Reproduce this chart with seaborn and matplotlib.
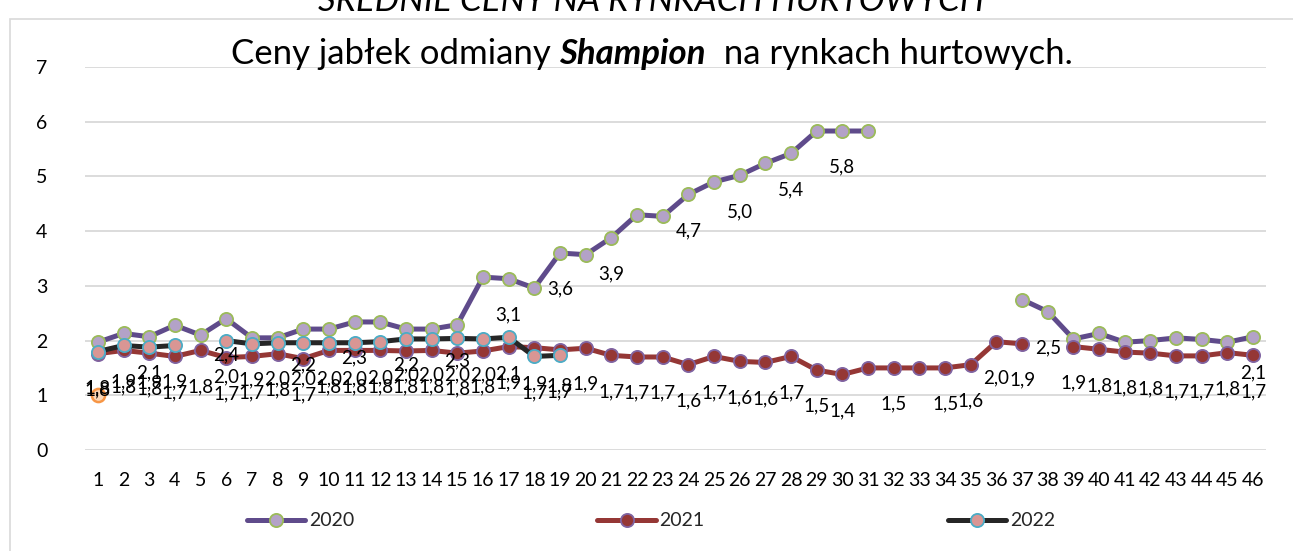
import numpy as np
import pandas as pd
import matplotlib.pyplot as plt
import seaborn as sns
from matplotlib.lines import Line2D
from matplotlib.patches import Rectangle

nan = np.nan
weeks = list(range(1, 47))

ceny_2020 = [1.97, 2.13, 2.07, 2.28, 2.10, 2.40, 2.05, 2.05, 2.21, 2.21,
             2.34, 2.34, 2.21, 2.21, 2.29, 3.16, 3.13, 2.96, 3.60, 3.57,
             3.88, 4.30, 4.27, 4.67, 4.90, 5.02, 5.24, 5.42, 5.83, 5.83,
             5.83, nan, nan, nan, nan, nan, 2.75, 2.53, 2.03, 2.13,
             1.97, 2.00, 2.05, 2.02, 1.97, 2.07]
ceny_2021 = [1.76, 1.82, 1.77, 1.71, 1.82, 1.69, 1.71, 1.76, 1.67, 1.82,
             1.82, 1.82, 1.81, 1.82, 1.77, 1.81, 1.89, 1.87, 1.83, 1.86,
             1.73, 1.70, 1.70, 1.56, 1.71, 1.62, 1.60, 1.71, 1.46, 1.38,
             1.50, 1.50, 1.50, 1.50, 1.56, 1.98, 1.94, nan, 1.89, 1.84,
             1.79, 1.77, 1.72, 1.72, 1.78, 1.73]
ceny_2022 = [1.80, 1.91, 1.88, 1.91, nan, 2.00, 1.94, 1.96, 1.96, 1.96,
             1.96, 1.98, 2.03, 2.03, 2.04, 2.03, 2.06, 1.71, 1.73] + [nan] * 27

# stray point at week 1
extra_week = [1]
extra_val = [1.0]

# which points carry a data label
labels_2020 = [3, 6, 9, 11, 13, 15, 17, 19, 21, 24, 26, 28, 30, 38, 46]
skip_2021 = [31, 33]

df = pd.DataFrame({"tydzien": weeks, "2020": ceny_2020,
                   "2021": ceny_2021, "2022": ceny_2022})

styles = {
    "2020": dict(color="#5F4B8B", mfc="#B3A2C7", mec="#9BBB59"),
    "2021": dict(color="#953735", mfc="#953735", mec="#8064A2"),
    "2022": dict(color="#262626", mfc="#D99694", mec="#4BACC6"),
}

sns.set_theme(style="white")
plt.rcParams["font.family"] = ["Lato", "DejaVu Sans"]

fig = plt.figure(figsize=(12.93, 5.51), dpi=100)
ax = fig.add_axes([85 / 1293, 101 / 551, (1266 - 85) / 1293, 383 / 551])


def segments(x, y):
    s = pd.Series(np.asarray(y, dtype=float), index=np.asarray(x))
    ok = s.notna()
    grp = (~ok).cumsum()
    for _, seg in s[ok].groupby(grp[ok]):
        yield list(seg.index), list(seg.values)


for z, year in enumerate(["2020", "2021", "2022"]):
    st = styles[year]
    for xs, ys in segments(df["tydzien"], df[year]):
        sns.lineplot(x=xs, y=ys, ax=ax, color=st["color"], linewidth=3.6,
                     marker="o", markersize=9.5, markerfacecolor=st["mfc"],
                     markeredgecolor=st["mec"], markeredgewidth=1.3,
                     zorder=3 + z, estimator=None, sort=False)

sns.scatterplot(x=extra_week, y=extra_val, ax=ax, s=90, color="#FAD7B8",
                edgecolor="#F79646", linewidth=1.8, zorder=7)


def label(wk, v):
    ax.annotate(f"{v:.1f}".replace(".", ","), (wk, v), xytext=(0, -26),
                textcoords="offset points", ha="center", va="center",
                fontsize=13.5, color="black", zorder=10)


for wk, v in zip(weeks, ceny_2020):
    if wk in labels_2020 and not np.isnan(v):
        label(wk, v)
for wk, v in zip(weeks, ceny_2021):
    if wk not in skip_2021 and not np.isnan(v):
        label(wk, v)
for wk, v in zip(weeks, ceny_2022):
    if not np.isnan(v):
        label(wk, v)

ax.set_xlim(0.5, 46.5)
ax.set_ylim(0, 7)
ax.set_xticks(weeks)
ax.set_yticks(range(8))
ax.set_xlabel("")
ax.set_ylabel("")
ax.set_axisbelow(True)
ax.grid(axis="y", color="#d9d9d9", linewidth=1.3)
ax.grid(axis="x", visible=False)
for sp in ax.spines.values():
    sp.set_visible(False)
ax.tick_params(axis="both", length=0, labelsize=14, colors="black")
ax.tick_params(axis="y", pad=27)
ax.tick_params(axis="x", pad=16)

# chart title with bold italic variety name
r = fig.canvas.get_renderer()
parts = [("Ceny jabłek odmiany ", "normal", "normal"),
         ("Shampion", "bold", "italic"),
         ("  na rynkach hurtowych.", "normal", "normal")]
ty = 1 - 64 / 551
texts = [fig.text(0, ty, s, fontsize=25, fontweight=w, fontstyle=st,
                  ha="left", va="baseline", color="black")
         for s, w, st in parts]
widths = [t.get_window_extent(r).width for t in texts]
x0 = 651.5 - sum(widths) / 2
for t, w in zip(texts, widths):
    t.set_x(x0 / 1293)
    x0 += w

# partially visible heading above the chart
fig.text(651 / 1293, 1 - 11 / 551, "ŚREDNIE CENY NA RYNKACH HURTOWYCH",
         ha="center", va="baseline", fontsize=25, fontstyle="italic",
         color="black")

# chart area border
fig.patches.append(Rectangle((10 / 1293, -0.05), 1.1, (551 - 19) / 551 + 0.05,
                             transform=fig.transFigure, fill=False,
                             edgecolor="#d9d9d9", linewidth=1.2))

handles = [Line2D([], [], color=styles[y]["color"], linewidth=3.6, marker="o",
                  markersize=9.5, markerfacecolor=styles[y]["mfc"],
                  markeredgecolor=styles[y]["mec"], markeredgewidth=1.3)
           for y in ["2020", "2021", "2022"]]
fig.legend(handles, ["2020", "2021", "2022"], loc="center",
           bbox_to_anchor=(651 / 1293, 1 - 521 / 551), ncol=3, frameon=False,
           fontsize=14, handlelength=3.0, handletextpad=0.2,
           columnspacing=12.5)

fig.savefig("out.png", dpi=100)
